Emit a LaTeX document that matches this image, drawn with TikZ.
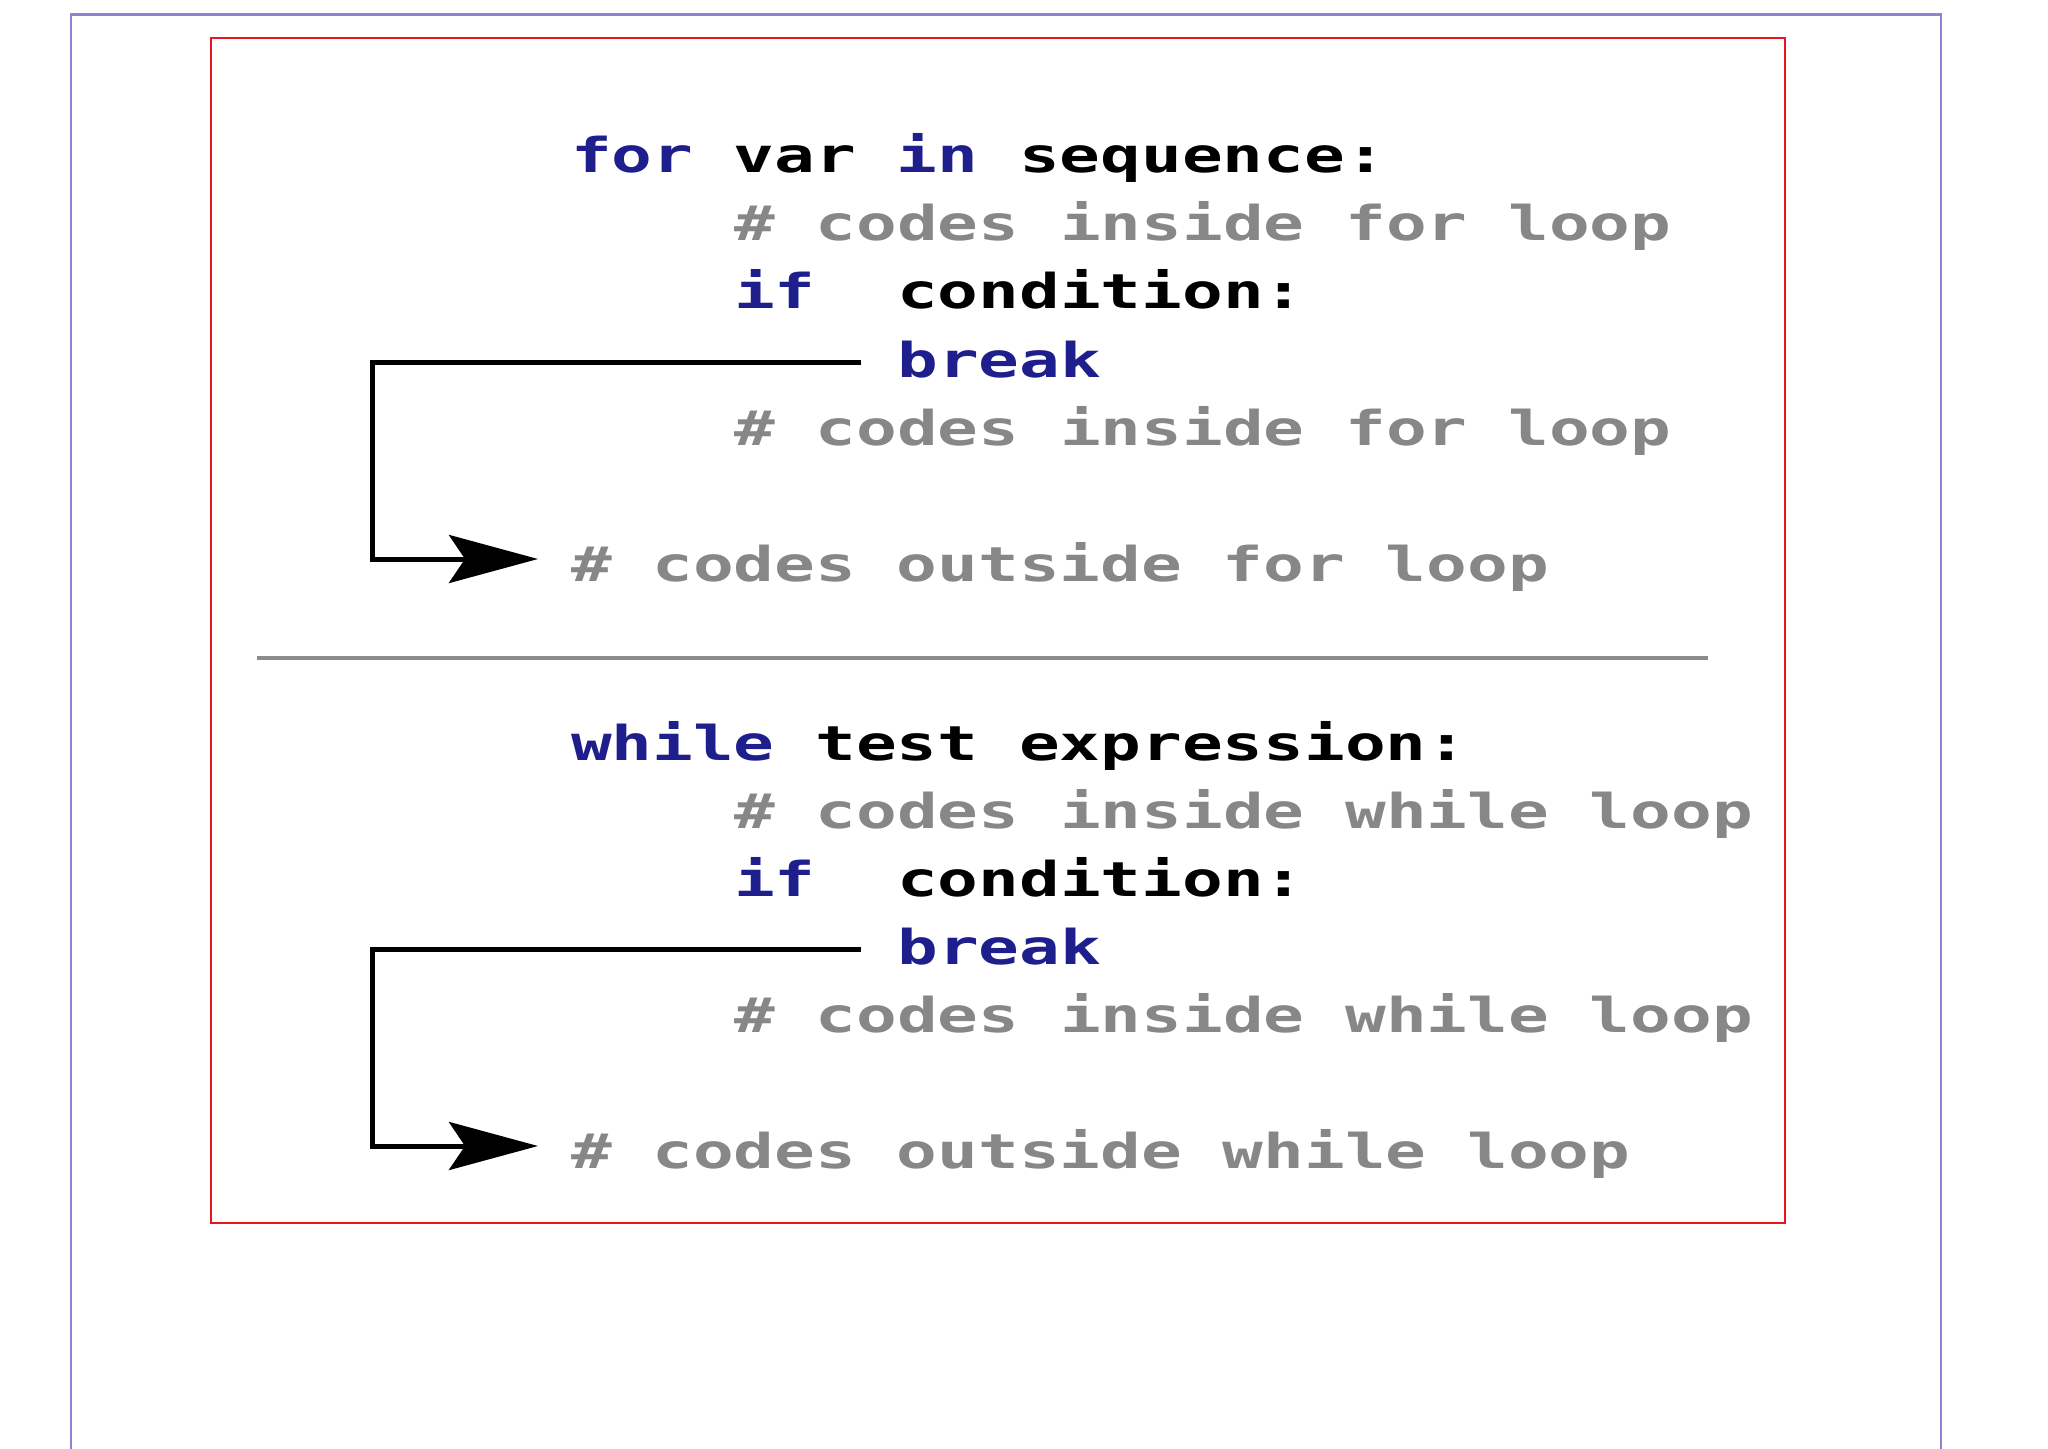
\documentclass[tikz,border=0pt]{standalone}
\usepackage{fontspec}
\newfontfamily\codefont{DejaVu Sans Mono}[FakeStretch=1.41]
\usetikzlibrary{arrows.meta}
\definecolor{kw}{RGB}{30,30,140}
\definecolor{cm}{RGB}{135,135,135}
\definecolor{frameRed}{RGB}{228,22,32}
\definecolor{frameLilac}{RGB}{140,132,210}
\definecolor{sepGray}{RGB}{140,140,140}
\newcommand{\kw}[1]{\textcolor{kw}{#1}}
\tikzset{
  codeline/.style={anchor=base west, inner sep=0pt, outer sep=0pt,
    font=\codefont\bfseries\fontsize{24pt}{25pt}\selectfont, text=black},
  comment/.style={codeline, text=cm},
  breakarrow/.style={line width=2.5pt, black,
    -{Stealth[length=44.5pt,width=24pt,inset=8pt]}}
}
\begin{document}
\begin{tikzpicture}[x=0.5pt,y=-0.5pt]
\useasboundingbox (0,0) rectangle (2048,1449);
\clip (0,0) rectangle (2048,1449);
\fill[white] (0,0) rectangle (2048,1449);
% outer frame
\draw[frameLilac, line width=1.1pt] (71,1470) -- (71,14.5) -- (1941,14.5) -- (1941,1470);
% red frame
\draw[frameRed, line width=1.3pt] (211,38) rectangle (1785,1223);
% separator
\draw[sepGray, line width=2pt] (257,658) -- (1708,658);
% block 1
\node[codeline] (for) at (571,173) {\kw{for} var \kw{in} sequence:};
\node[comment] (c1a) at (734.2,241) {\# codes inside for loop};
\node[codeline] (if1) at (734.2,309) {\kw{if}\ \ condition:};
\node[codeline, text=kw] (brk1) at (897.4,377) {break};
\node[comment] (c1b) at (734.2,445) {\# codes inside for loop};
\node[comment] (out1) at (571,581) {\# codes outside for loop};
% block 2
\node[codeline] (while) at (571,760) {\kw{while} test expression:};
\node[comment] (c2a) at (734.2,828) {\# codes inside while loop};
\node[codeline] (if2) at (734.2,896) {\kw{if}\ \ condition:};
\node[codeline, text=kw] (brk2) at (897.4,964) {break};
\node[comment] (c2b) at (734.2,1032) {\# codes inside while loop};
\node[comment] (out2) at (571,1168) {\# codes outside while loop};
% arrows
\coordinate (s1) at (861,362);
\coordinate (k1) at (372,362);
\coordinate (e1) at (538,559);
\draw[breakarrow] (s1) -- (k1) |- (e1);
\coordinate (s2) at (861,949);
\coordinate (k2) at (372,949);
\coordinate (e2) at (538,1146);
\draw[breakarrow] (s2) -- (k2) |- (e2);
\end{tikzpicture}
\end{document}
